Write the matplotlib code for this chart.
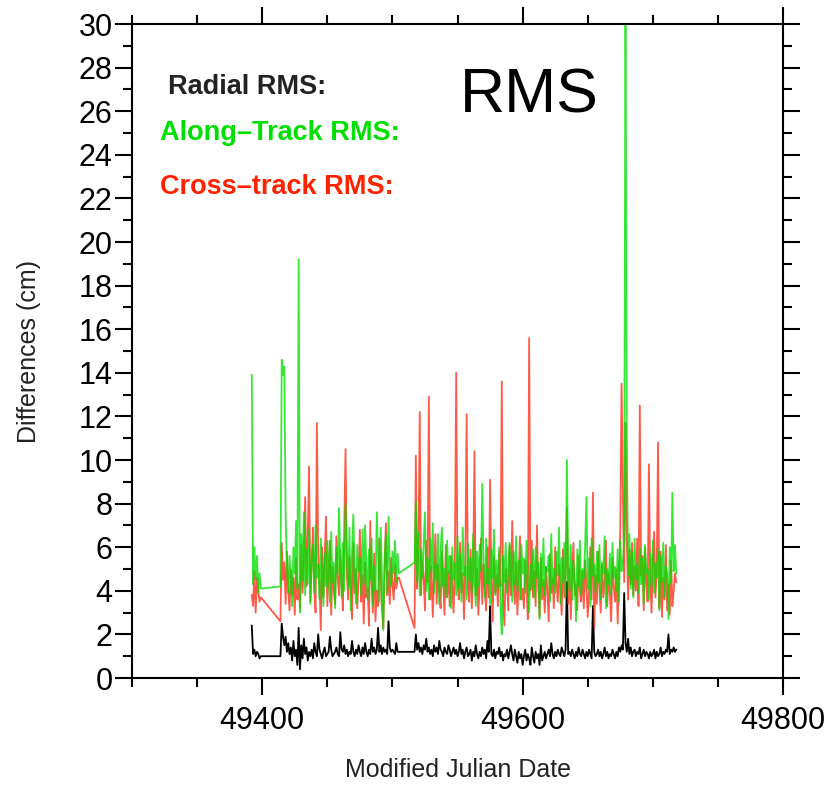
import matplotlib
matplotlib.use("Agg")
import matplotlib.pyplot as plt
from matplotlib.ticker import MultipleLocator

plt.rcParams['font.family'] = ['Liberation Sans', 'DejaVu Sans']

# observation days (MJD), three passes with two gaps
days_a = list(range(49392, 49400))
days_b = list(range(49414, 49506))
days_c = list(range(49517, 49719))
mjd = days_a + days_b + days_c

radial = [
    2.4, 1.1, 1.3, 1.0, 1.2, 1.1, 0.9, 1.0,
    1.0, 2.5, 1.9, 1.5, 1.9, 1.2, 1.6, 1.1, 1.4, 0.8,
    1.7, 1.0, 1.3, 0.6, 2.3, 0.4, 1.5, 0.9, 1.8, 1.1,
    1.4, 0.8, 1.2, 1.0, 1.3, 0.9, 1.6, 1.2, 1.0, 2.0,
    1.3, 1.1, 0.9, 1.2, 1.4, 1.0, 1.1, 1.2, 1.9, 1.3,
    1.0, 1.1, 1.2, 1.4, 1.1, 1.0, 2.1, 1.3, 1.2, 1.5,
    1.1, 1.3, 1.0, 1.2, 1.1, 1.7, 1.2, 1.0, 1.3, 1.1,
    1.5, 1.2, 1.0, 1.4, 1.1, 1.6, 1.2, 1.0, 1.3, 1.1,
    1.8, 1.2, 1.4, 1.1, 1.3, 2.3, 1.2, 1.5, 1.1, 1.4,
    1.2, 1.3, 1.1, 2.6, 1.4, 1.2, 1.3, 1.2, 1.1, 1.6, 1.2, 1.2,
    1.2, 2.0, 1.3, 1.6, 1.2, 1.4, 1.1, 1.5, 1.3, 1.8,
    1.2, 1.4, 1.1, 1.3, 1.0, 1.5, 1.2, 1.4, 1.1, 1.7,
    1.3, 1.2, 1.0, 1.4, 1.2, 1.1, 1.5, 1.3, 1.0, 1.2,
    1.4, 1.1, 1.3, 1.0, 1.2, 1.6, 1.1, 1.3, 0.9, 1.2,
    1.4, 1.0, 1.1, 1.3, 0.8, 1.2, 1.0, 1.5, 1.1, 0.9,
    1.2, 1.0, 1.4, 1.1, 1.3, 0.9, 1.7, 1.2, 3.3, 1.1,
    1.0, 1.3, 0.9, 1.2, 1.1, 1.4, 1.0, 1.2, 0.8, 1.1,
    1.0, 1.3, 0.9, 1.2, 1.5, 1.1, 0.8, 1.3, 1.0, 0.7,
    1.2, 0.9, 1.1, 0.6, 1.0, 1.3, 0.8, 1.1, 0.9, 0.6,
    1.4, 1.0, 0.7, 1.2, 0.9, 1.1, 0.6, 1.5, 0.8, 1.0,
    1.2, 0.9, 1.1, 1.3, 1.0, 1.6, 1.1, 0.9, 1.2, 1.0,
    1.3, 1.1, 1.0, 1.4, 1.2, 1.0, 1.3, 4.4, 1.1, 1.2,
    1.0, 1.3, 1.1, 0.9, 1.2, 1.0, 1.4, 1.1, 1.0, 1.3,
    1.1, 0.9, 1.2, 1.0, 1.3, 1.1, 0.9, 3.3, 1.2, 1.0,
    1.1, 1.3, 1.0, 1.2, 0.9, 1.1, 1.4, 1.0, 1.2, 0.9,
    1.1, 1.0, 1.3, 1.1, 0.9, 1.2, 1.0, 1.4, 1.2, 1.5,
    1.3, 3.9, 1.6, 1.2, 1.8, 1.1, 1.4, 1.0, 1.2, 1.3,
    1.0, 1.2, 1.1, 1.4, 0.9, 1.1, 1.3, 1.0, 1.2, 1.1,
    0.9, 1.2, 1.0, 1.1, 1.3, 0.9, 1.2, 1.0, 1.1, 1.4,
    1.0, 1.2, 1.1, 1.3, 1.2, 2.0, 1.1, 1.3, 1.2, 1.4,
    1.2, 1.3,
]

along = [
    13.9, 4.3, 6.0, 4.5, 5.6, 3.9, 4.8, 4.1,
    4.2, 14.6, 13.9, 14.3, 7.4, 5.1, 3.9, 5.6, 4.4, 3.3,
    6.0, 4.8, 7.2, 4.1, 19.2, 3.0, 6.6, 4.5, 7.6, 3.8,
    5.9, 4.3, 6.8, 3.4, 5.5, 6.1, 3.9, 7.0, 4.6, 5.2,
    3.6, 6.4, 4.9, 3.3, 5.7, 4.2, 6.3, 5.0, 3.5, 6.7,
    4.4, 5.3, 3.2, 6.0, 4.8, 7.8, 5.4, 3.7, 6.2, 4.0,
    8.0, 5.6, 4.1, 6.9, 3.1, 5.8, 7.5, 4.7, 3.4, 6.1,
    4.9, 5.5, 3.8, 6.8, 4.3, 7.0, 5.2, 3.6, 5.9, 4.5,
    6.4, 3.3, 5.1, 4.0, 7.6, 5.7, 3.5, 6.9, 4.6, 2.2,
    5.4, 6.6, 3.9, 7.4, 5.0, 4.2, 5.8, 4.8, 6.3, 4.4, 5.7, 4.8,
    5.3, 8.1, 4.4, 6.7, 3.8, 5.9, 4.6, 6.2, 7.6, 4.0,
    5.5, 3.6, 6.4, 4.9, 7.1, 3.9, 5.2, 4.5, 6.6, 3.4,
    5.8, 6.9, 4.2, 5.0, 3.7, 6.3, 4.8, 5.6, 3.2, 6.0,
    4.5, 5.3, 3.8, 6.5, 4.1, 5.7, 3.5, 6.9, 4.7, 5.1,
    3.6, 6.2, 4.4, 5.5, 3.9, 6.6, 4.8, 3.3, 5.8, 4.2,
    6.1, 4.9, 8.9, 5.2, 3.7, 6.4, 4.3, 5.0, 3.4, 5.9,
    4.6, 6.8, 3.8, 5.4, 4.1, 6.0, 3.2, 2.0, 5.6, 4.4,
    6.2, 3.9, 5.1, 6.2, 4.7, 3.5, 5.8, 4.3, 6.5, 4.0,
    5.4, 3.6, 6.1, 4.8, 5.5, 3.9, 6.3, 4.5, 3.0, 5.2,
    4.1, 5.9, 3.7, 6.0, 4.6, 5.3, 2.7, 5.7, 4.2, 6.4,
    3.8, 5.1, 4.9, 5.6, 3.5, 6.6, 4.3, 5.0, 3.9, 5.8,
    4.7, 6.9, 3.4, 5.5, 4.4, 6.2, 3.7, 10.0, 5.3, 4.0,
    6.1, 3.6, 5.4, 4.5, 2.6, 5.9, 4.2, 6.3, 3.8, 5.0,
    4.6, 6.0, 8.3, 4.1, 5.5, 3.3, 6.4, 4.7, 5.2, 3.9,
    5.8, 4.4, 6.1, 3.6, 5.3, 4.8, 6.5, 3.2, 5.0, 4.3,
    5.7, 3.8, 6.2, 4.6, 5.1, 4.0, 5.9, 3.5, 6.3, 4.9,
    5.4, 6.2, 32.0, 10.9, 4.7, 6.6, 4.1, 5.8, 3.7, 6.4,
    4.5, 5.2, 3.9, 6.0, 4.3, 5.5, 3.4, 6.1, 4.8, 5.0,
    3.6, 5.7, 4.2, 6.3, 3.9, 5.3, 4.6, 5.9, 3.1, 5.6,
    4.4, 6.2, 3.7, 5.1, 4.8, 2.7, 6.0, 4.3, 8.5, 4.9,
    6.1, 4.8,
]

cross = [
    3.8, 3.3, 4.9, 3.0, 4.6, 4.0, 3.5, 3.7,
    2.6, 6.2, 4.5, 5.3, 3.4, 5.8, 4.0, 3.1, 5.0, 3.8,
    4.6, 2.9, 5.5, 3.6, 4.3, 3.2, 6.1, 3.9, 5.4, 8.3,
    4.2, 6.6, 9.7, 3.5, 5.2, 6.9, 4.1, 3.0, 11.7, 5.7,
    4.4, 2.2, 6.0, 3.7, 5.5, 7.4, 3.3, 4.8, 6.3, 2.9,
    5.1, 4.0, 3.4, 6.5, 4.6, 3.8, 5.9, 4.3, 3.1, 6.7,
    10.5, 4.9, 3.6, 5.6, 4.2, 2.7, 6.2, 3.9, 5.0, 3.2,
    4.5, 6.8, 3.5, 4.7, 2.5, 5.3, 3.7, 4.1, 2.4, 7.2,
    4.4, 3.0, 5.7, 2.6, 4.0, 3.3, 6.4, 4.6, 3.1, 2.3,
    5.0, 7.1, 3.8, 4.9, 3.4, 5.5, 4.3, 3.6, 5.2, 4.1, 4.6, 4.6,
    2.3, 10.2, 4.1, 6.0, 12.2, 3.8, 5.4, 4.6, 3.1, 6.3,
    4.4, 12.9, 3.6, 5.1, 2.8, 4.7, 6.6, 3.4, 5.2, 4.0,
    3.2, 5.8, 4.5, 2.9, 6.1, 3.7, 4.9, 3.3, 5.6, 4.2,
    3.0, 5.5, 14.0, 4.4, 3.6, 6.2, 3.9, 4.8, 2.7, 5.3,
    12.1, 4.1, 3.5, 5.9, 3.2, 4.6, 10.4, 3.8, 5.0, 2.9,
    4.3, 6.4, 3.4, 5.2, 4.0, 3.1, 6.0, 3.7, 9.1, 4.5,
    2.6, 5.6, 3.9, 4.7, 3.3, 5.8, 4.2, 13.6, 3.5, 2.4,
    5.0, 4.4, 3.1, 6.1, 3.8, 7.2, 4.6, 3.4, 5.3, 2.9,
    4.8, 6.5, 3.6, 4.1, 3.2, 5.4, 4.3, 2.7, 15.6, 4.0,
    6.3, 3.7, 4.9, 3.3, 7.0, 4.2, 2.8, 5.5, 3.6, 4.5,
    3.0, 5.1, 4.0, 2.6, 5.7, 3.9, 4.6, 3.2, 6.0, 4.4,
    3.5, 5.2, 4.1, 2.9, 5.9, 3.7, 4.8, 7.8, 3.4, 5.0,
    2.7, 4.6, 6.2, 3.8, 4.3, 3.1, 5.6, 4.0, 3.5, 4.9,
    3.2, 5.4, 4.2, 2.8, 3.9, 6.0, 3.6, 8.5, 2.3, 4.7,
    3.4, 5.8, 4.1, 3.0, 5.2, 3.7, 4.4, 6.3, 3.3, 4.8,
    3.9, 2.6, 5.5, 4.2, 3.5, 5.0, 2.5, 4.6, 6.8, 13.5,
    8.6, 4.4, 11.7, 6.5, 3.6, 5.9, 4.3, 6.2, 3.8, 5.1,
    4.0, 6.4, 3.3, 12.5, 4.7, 5.6, 3.1, 6.0, 4.2, 3.5,
    9.8, 4.5, 3.0, 5.3, 6.7, 3.7, 4.9, 10.8, 3.2, 5.8,
    2.8, 4.6, 3.6, 6.1, 3.1, 4.3, 2.9, 5.4, 3.3, 4.0,
    4.8, 4.4,
]

fig = plt.figure(figsize=(8.28, 7.87), dpi=100)
ax = fig.add_axes([0.1594, 0.1385, 0.7863, 0.831])

ax.plot(mjd, radial, color='black', lw=1.3)
ax.plot(mjd, cross, color='#ff1a00', lw=1.3, alpha=0.72)
ax.plot(mjd, along, color='#00e000', lw=1.3, alpha=0.78)

ax.set_xlim(49300, 49800)
ax.set_ylim(0, 30)
ax.xaxis.set_major_locator(MultipleLocator(200))
ax.xaxis.set_minor_locator(MultipleLocator(50))
ax.yaxis.set_major_locator(MultipleLocator(2))
ax.yaxis.set_minor_locator(MultipleLocator(1))
ax.tick_params(which='both', direction='out', top=True, right=True, width=1.5)
ax.tick_params(which='major', length=12, labelsize=22, pad=2)
ax.tick_params(which='minor', length=6.5)
ax.tick_params(axis='x', which='major', pad=8)
for s in ax.spines.values():
    s.set_linewidth(1.5)

ax.set_xlabel('Modified Julian Date', fontsize=18, color='#222222', labelpad=16)
ax.set_ylabel('Differences (cm)', fontsize=18, color='#222222', labelpad=27)

ax.text(0.055, 0.904, 'Radial RMS:', transform=ax.transAxes, fontsize=19.5,
        fontweight='bold', color='#222222', va='center')
ax.text(0.043, 0.833, 'Along–Track RMS:', transform=ax.transAxes, fontsize=19.5,
        fontweight='bold', color='#00e000', va='center')
ax.text(0.043, 0.751, 'Cross–track RMS:', transform=ax.transAxes, fontsize=19.5,
        fontweight='bold', color='#ff2200', va='center')
ax.text(0.504, 0.890, 'RMS', transform=ax.transAxes, fontsize=45,
        color='black', va='center')

fig.savefig('out.png', dpi=100)
